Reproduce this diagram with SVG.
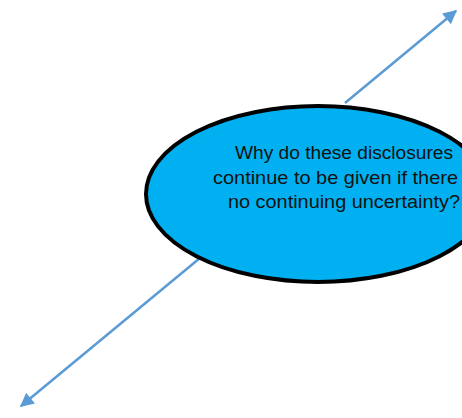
<svg xmlns="http://www.w3.org/2000/svg" width="462" height="418" viewBox="0 0 462 418">
<defs>
<marker id="ah" viewBox="0 0 10 10" refX="9" refY="5" markerWidth="6" markerHeight="5.5" orient="auto" markerUnits="strokeWidth">
<path d="M0,0 L10,5 L0,10 z" fill="#5B9BD5"/>
</marker>
<style>
.conn{stroke:#5B9BD5;stroke-width:2.5;fill:none;marker-end:url(#ah)}
.lbl{font-family:"Liberation Sans","Open Sans",sans-serif;font-size:18px;fill:#111}
</style>
</defs>
<rect width="462" height="418" fill="#fff"/>
<g id="connectors">
<line class="conn" x1="345" y1="103" x2="456" y2="11"/>
<line class="conn" x1="200" y1="258" x2="21" y2="406"/>
</g>
<g id="node-question">
<ellipse cx="318" cy="194" rx="172" ry="88" fill="#00B0F0" stroke="#000" stroke-width="4"/>
<text class="lbl" x="235" y="159" textLength="218" lengthAdjust="spacingAndGlyphs">Why do these disclosures</text>
<text class="lbl" x="213" y="184" textLength="245" lengthAdjust="spacingAndGlyphs">continue to be given if there</text>
<text class="lbl" x="228" y="208" textLength="232" lengthAdjust="spacingAndGlyphs">no continuing uncertainty?</text>
</g>
</svg>
